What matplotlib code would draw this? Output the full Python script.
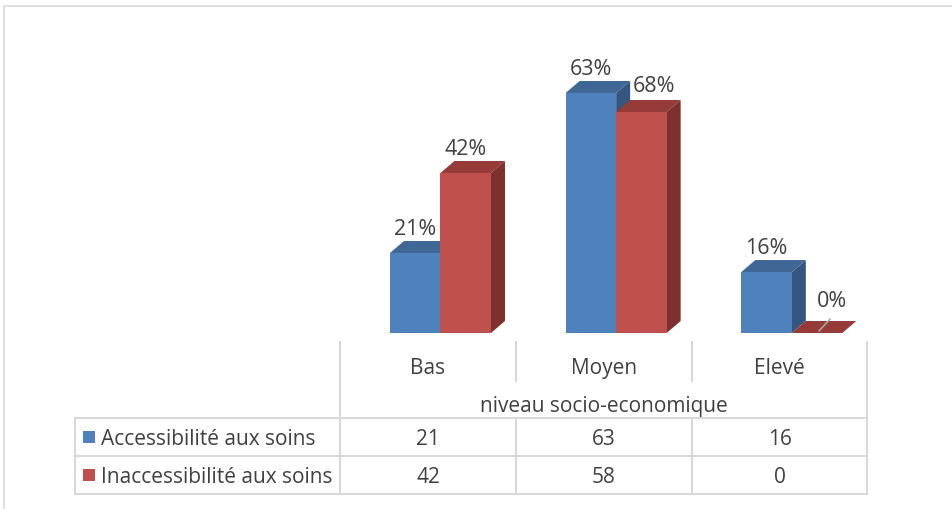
import matplotlib
matplotlib.use("Agg")
import matplotlib.pyplot as plt
from matplotlib.patches import Polygon, Rectangle
from matplotlib.lines import Line2D

# niveau socio-economique
categories = ["Bas", "Moyen", "Elevé"]
series_names = ["Accessibilité aux soins", "Inaccessibilité aux soins"]
acces = [21, 63, 16]
inacces = [42, 58, 0]
# data labels shown above each bar
acces_labels = ["21%", "63%", "16%"]
inacces_labels = ["42%", "68%", "0%"]

front = ["#4F81BD", "#C0504D"]
top = ["#3F6796", "#973B38"]
side = ["#34567F", "#7E302D"]
txt = "#404040"
grid = "#D9D9D9"
fs = 15
fs_lab = 15.5

plt.rcParams['font.family'] = ['Open Sans', 'DejaVu Sans']

W, H = 952, 510
fig = plt.figure(figsize=(W / 100, H / 100), dpi=100)

# full-figure overlay in pixel units for the frame and the data table
bg = fig.add_axes([0, 0, 1, 1])
bg.set_xlim(0, W)
bg.set_ylim(H, 0)
bg.axis("off")

# bar area: one category per table column
col_x = [340, 516, 692, 867]
base_y, top_y = 334, 20
px_per_unit = 3.81
ax = fig.add_axes([col_x[0] / W, (H - base_y) / H,
                   (col_x[-1] - col_x[0]) / W, (base_y - top_y) / H])
ax.set_xlim(-0.5, len(categories) - 0.5)
ax.set_ylim(0, (base_y - top_y) / px_per_unit)
ax.axis("off")

col_w = (col_x[-1] - col_x[0]) / len(categories)
bar_w = 50.5 / col_w
shift = 0.072
dx = 14 / col_w
dy = 12 / px_per_unit


def bar3d(x0, h, k):
    ax.add_patch(Rectangle((x0, 0), bar_w, h, fc=front[k], ec="none", zorder=3))
    ax.add_patch(Polygon([(x0, h), (x0 + dx, h + dy), (x0 + bar_w + dx, h + dy),
                          (x0 + bar_w, h)], closed=True, fc=top[k], ec="none", zorder=3))
    ax.add_patch(Polygon([(x0 + bar_w, 0), (x0 + bar_w + dx, dy),
                          (x0 + bar_w + dx, h + dy), (x0 + bar_w, h)],
                         closed=True, fc=side[k], ec="none", zorder=2))


# extra label nudges in points (x, y) where labels would collide
nudge = {(1, 1): (9, 1.5), (1, 2): (11, 6)}

for i in range(len(categories)):
    for k, (vals, labs) in enumerate([(acces, acces_labels), (inacces, inacces_labels)]):
        x0 = i - bar_w + shift + k * bar_w
        h = vals[i]
        bar3d(x0, h, k)
        nx, ny = nudge.get((k, i), (0, 0))
        ax.annotate(labs[i], xy=(x0 + bar_w / 2, h + dy), xytext=(nx, 5 + ny),
                    textcoords="offset points", ha="center", va="baseline",
                    fontsize=fs_lab, color=txt, zorder=5, annotation_clip=False)
        if h == 0:
            ax.annotate("", xy=(x0 + bar_w / 2, h), xytext=(x0 + bar_w / 2 + 0.085, h + 4.2),
                        arrowprops=dict(arrowstyle="-", color="#A6A6A6", lw=1.2), zorder=6)

# outer chart frame
bg.add_line(Line2D([4, 4, W], [H, 7, 7], color=grid, lw=1.2))

# data table
lc = dict(color=grid, lw=1.5)
tx0 = 75
rows_y = [419, 457, 495]
bg.add_line(Line2D([col_x[0], col_x[0]], [343, rows_y[-1]], **lc))
bg.add_line(Line2D([col_x[-1], col_x[-1]], [343, rows_y[-1]], **lc))
for x in col_x[1:-1]:
    bg.add_line(Line2D([x, x], [343, 382], **lc))
    bg.add_line(Line2D([x, x], [rows_y[0], rows_y[-1]], **lc))
for y in rows_y:
    bg.add_line(Line2D([tx0, col_x[-1]], [y, y], **lc))
bg.add_line(Line2D([tx0, tx0], [rows_y[0], rows_y[-1]], **lc))

for i, c in enumerate(categories):
    bg.text((col_x[i] + col_x[i + 1]) / 2, 369, c, ha="center", va="center",
            fontsize=fs, color=txt)
bg.text((col_x[0] + col_x[-1]) / 2, 407, "niveau socio-economique", ha="center",
        va="center", fontsize=fs, color=txt)

for r, (name, vals) in enumerate([(series_names[0], acces), (series_names[1], inacces)]):
    yc = (rows_y[r] + rows_y[r + 1]) / 2
    bg.add_patch(Rectangle((83, yc - 6), 12, 12, fc=front[r], ec="none"))
    bg.text(101, yc + 2, name, ha="left", va="center", fontsize=fs, color=txt)
    for i, v in enumerate(vals):
        bg.text((col_x[i] + col_x[i + 1]) / 2, yc + 2, str(v), ha="center", va="center",
                fontsize=fs, color=txt)

fig.savefig("out.png", dpi=100)
